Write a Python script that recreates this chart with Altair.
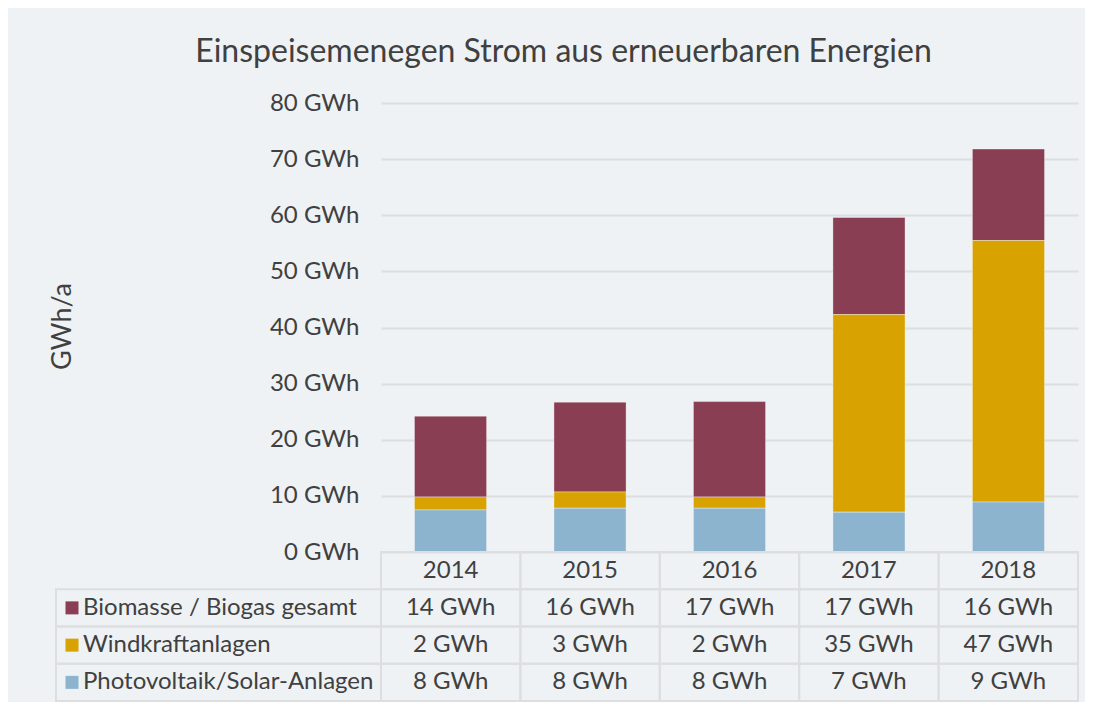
import altair as alt
import pandas as pd

years = ["2014", "2015", "2016", "2017", "2018"]
series = ["Biomasse / Biogas gesamt", "Windkraftanlagen", "Photovoltaik/Solar-Anlagen"]
biomasse = [14.4, 16.0, 17.0, 17.3, 16.3]
wind = [2.3, 2.9, 2.0, 35.2, 46.6]
photo = [7.5, 7.8, 7.8, 7.1, 8.9]
colors = ["#8A3E53", "#D8A300", "#8DB4CF"]
y_ticks = [0, 10, 20, 30, 40, 50, 60, 70, 80]

FONT = "Lato"
TXT = "#404040"
GRID = "#DCDEE0"
BG = "#EEF2F5"
FS = 24

rows = []
for s, vals, o in zip(series, [biomasse, wind, photo], [3, 2, 1]):
    for y, v in zip(years, vals):
        rows.append({"year": y, "series": s, "value": v, "order": o})
df = pd.DataFrame(rows)

color_scale = alt.Scale(domain=series, range=colors)

bars = alt.Chart(df).mark_bar(stroke="white", strokeOpacity=0.35, strokeWidth=1).encode(
    x=alt.X("year:N", sort=years, scale=alt.Scale(paddingInner=0.483, paddingOuter=0.24), axis=None),
    y=alt.Y("value:Q", stack="zero",
            scale=alt.Scale(domain=[0, 80], nice=False),
            axis=alt.Axis(values=y_ticks, labelExpr="datum.value + ' GWh'",
                          title="GWh/a", titleX=-305, titleY=223, titleFontSize=27,
                          titleFontWeight="normal", titleColor=TXT, titleFont=FONT,
                          labelFontSize=FS, labelColor=TXT, labelFont=FONT, labelPadding=22,
                          domain=False, ticks=False, grid=True, gridColor=GRID, gridWidth=2)),
    color=alt.Color("series:N", scale=color_scale, legend=None),
    order=alt.Order("order:Q"),
).properties(width=697, height=449)

# table data
trows = []
row_domain = ["header"] + series
for y in years:
    trows.append({"row": "header", "year": y, "label": y, "value": None})
for s, vals in zip(series, [biomasse, wind, photo]):
    for y, v in zip(years, vals):
        trows.append({"row": s, "year": y, "label": f"{round(v)} GWh", "value": v})
tdf = pd.DataFrame(trows)
sdf = pd.DataFrame({"row": series})

xs = alt.X("year:N", sort=years, scale=alt.Scale(paddingInner=0, paddingOuter=0), axis=None)
ys = alt.Y("row:N", sort=row_domain, scale=alt.Scale(domain=row_domain, paddingInner=0, paddingOuter=0), axis=None)

cells = alt.Chart(tdf).mark_rect(fillOpacity=0, stroke=GRID, strokeWidth=2).encode(x=xs, y=ys)
cell_text = alt.Chart(tdf).mark_text(font=FONT, fontSize=FS, color=TXT).encode(x=xs, y=ys, text="label:N")
label_cells = alt.Chart(sdf).mark_rect(fillOpacity=0, stroke=GRID, strokeWidth=2).encode(
    x=alt.value(-325), x2=alt.value(0), y=ys)
label_text = alt.Chart(sdf).mark_text(font=FONT, fontSize=FS, color=TXT, align="left").encode(
    x=alt.value(-298), y=ys, text="row:N")
squares = alt.Chart(sdf).mark_square(size=169, opacity=1).encode(
    x=alt.value(-309), y=ys, color=alt.Color("row:N", scale=color_scale, legend=None))

table = alt.layer(cells, label_cells, cell_text, label_text, squares).properties(width=697, height=149)

chart = alt.vconcat(bars, table, spacing=0, bounds="flush").properties(
    title=alt.TitleParams("Einspeisemenegen Strom aus erneuerbaren Energien", font=FONT, fontSize=32,
                          fontWeight="normal", color=TXT, anchor="middle", frame="bounds", offset=22),
    background=BG,
    padding={"left": 40, "top": 28, "right": 6, "bottom": 0},
).configure_view(strokeWidth=0).resolve_scale(color="shared")

chart.save("out.html", embed_options={"renderer": "svg", "actions": False})
